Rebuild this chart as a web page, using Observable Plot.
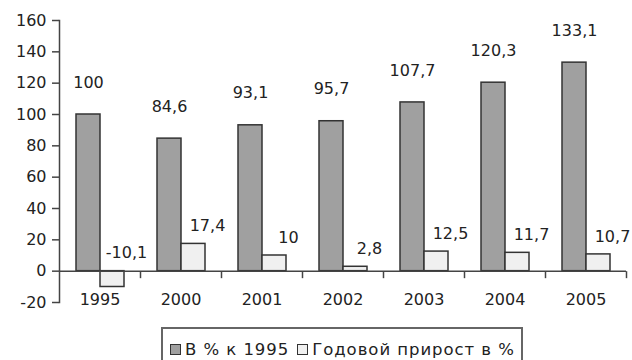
<!DOCTYPE html>
<html>
<head>
<meta charset="utf-8">
<script src="https://cdn.jsdelivr.net/npm/d3@7"></script>
<script src="https://cdn.jsdelivr.net/npm/@observablehq/plot@0.6"></script>
<style>
  html, body { margin: 0; padding: 0; background: #fff; overflow: hidden; }
  #chart { width: 632px; height: 360px; position: relative; }
  .legend {
    position: absolute; left: 161px; top: 327px;
    width: 362px; height: 40px;
    border: 2px solid #666; box-sizing: border-box;
    font-family: "DejaVu Sans", sans-serif; font-size: 16.5px; color: #222;
    letter-spacing: 0.95px; word-spacing: 0px;
    display: flex; align-items: flex-start; padding: 11px 0 0 7px;
    white-space: nowrap;
  }
  .legend .item { display: flex; align-items: center; margin-right: 8px; }
  .legend .swatch {
    width: 9px; height: 9px; border: 1.5px solid #333; margin-right: 4px;
  }
</style>
</head>
<body>
<div id="chart"></div>
<script>
// Categories and series
const years = ["1995", "2000", "2001", "2002", "2003", "2004", "2005"];
const seriesNames = ["В % к 1995", "Годовой прирост в %"];
const indexValues = [100, 84.6, 93.1, 95.7, 107.7, 120.3, 133.1];   // В % к 1995
const growthValues = [-10.1, 17.4, 10, 2.8, 12.5, 11.7, 10.7];      // Годовой прирост в %
const yTicks = [-20, 0, 20, 40, 60, 80, 100, 120, 140, 160];
const seriesColors = ["#a0a0a0", "#f0f0f0"];

const rows = years.flatMap((year, i) => [
  {year, series: seriesNames[0], value: indexValues[i]},
  {year, series: seriesNames[1], value: growthValues[i]}
]);
const indexRows = rows.filter(d => d.series === seriesNames[0]);
const growthRows = rows.filter(d => d.series === seriesNames[1]);

// decimal comma
const fmt = v => String(v).replace(".", ",");

// short downward tick at each category boundary on the zero line
const boundaryTick = {draw(ctx) { ctx.moveTo(0, 0); ctx.lineTo(0, 7); }};

const chart = Plot.plot({
  width: 632,
  height: 322,
  marginTop: 20,
  marginBottom: 20,
  marginLeft: 57,
  marginRight: 5,
  style: {fontFamily: "DejaVu Sans, sans-serif", fontSize: "16px", color: "#222", background: "#fff"},
  fx: {domain: years, padding: 0, axis: null},
  x: {domain: seriesNames, paddingInner: 0, paddingOuter: 0.63, axis: null},
  y: {domain: [-20, 160], label: null},
  color: {domain: seriesNames, range: seriesColors},
  marks: [
    Plot.barY(rows, {fx: "year", x: "series", y: "value", fill: "series", stroke: "#333", strokeWidth: 1.5}),
    Plot.ruleY([0], {stroke: "#444", strokeWidth: 1.5}),
    Plot.dot([0], {y: d => d, frameAnchor: "right", symbol: boundaryTick, r: 3, fill: "none", stroke: "#444", strokeWidth: 1.5}),
    Plot.frame({anchor: "left", facetAnchor: "left", stroke: "#444", strokeWidth: 1.5}),
    Plot.axisY(yTicks, {label: null, tickSize: 7, tickPadding: 6, tickFormat: d => String(d), stroke: "#444", strokeWidth: 1.5, fill: "#222"}),
    Plot.text(years, {fx: d => d, text: d => d, frameAnchor: "bottom", lineAnchor: "middle", dy: -3, fill: "#222"}),
    Plot.text(indexRows, {fx: "year", x: "series", y: "value", text: d => fmt(d.value), dy: -32, fill: "#222"}),
    Plot.text(growthRows, {fx: "year", x: "series", y: d => Math.max(0, d.value), text: d => fmt(d.value), dx: 14, dy: -18, fill: "#222"})
  ]
});

const root = document.getElementById("chart");
root.appendChild(chart);

// legend
const legend = document.createElement("div");
legend.className = "legend";
seriesNames.forEach((name, i) => {
  const item = document.createElement("div");
  item.className = "item";
  const sw = document.createElement("span");
  sw.className = "swatch";
  sw.style.background = seriesColors[i];
  const label = document.createElement("span");
  label.textContent = name;
  item.append(sw, label);
  legend.appendChild(item);
});
root.appendChild(legend);
</script>
</body>
</html>
